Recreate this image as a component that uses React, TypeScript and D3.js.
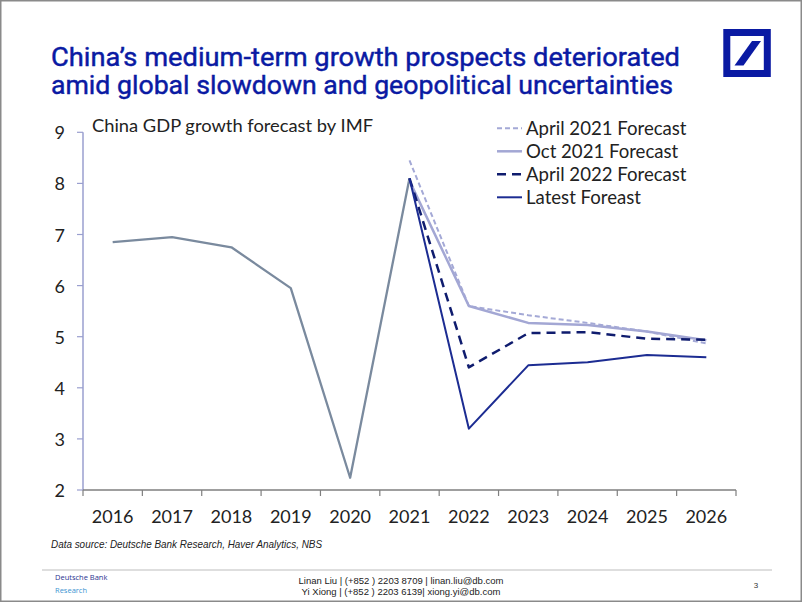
import React from "react";
import * as d3 from "d3";

const years = ["2016", "2017", "2018", "2019", "2020", "2021", "2022", "2023", "2024", "2025", "2026"];
const historyYears = ["2016", "2017", "2018", "2019", "2020", "2021"];
const historyValues = [6.85, 6.95, 6.75, 5.95, 2.24, 8.1];
const forecastYears = ["2021", "2022", "2023", "2024", "2025", "2026"];
const april2021Values = [8.45, 5.6, 5.42, 5.27, 5.1, 4.87];
const oct2021Values = [8.05, 5.6, 5.27, 5.23, 5.1, 4.93];
const april2022Values = [8.1, 4.4, 5.07, 5.09, 4.96, 4.94];
const latestValues = [8.1, 3.2, 4.44, 4.5, 4.64, 4.6];
const yTicks = [2, 3, 4, 5, 6, 7, 8, 9];

const seriesDefs = [
  { name: "April 2021 Forecast", values: april2021Values, color: "#a4a9d6", width: 2, dash: "5,3" },
  { name: "Oct 2021 Forecast", values: oct2021Values, color: "#a3a7d4", width: 2.5, dash: "" },
  { name: "April 2022 Forecast", values: april2022Values, color: "#0f1c6e", width: 2.5, dash: "9,6" },
  { name: "Latest Foreast", values: latestValues, color: "#1c2c92", width: 2, dash: "" },
];

export default function App() {
  const W = 802;
  const H = 602;
  const x0 = 83;
  const x1 = 736;
  const yTop = 132.3;
  const yBot = 490;

  const x = d3.scaleBand<string>().domain(years).range([x0, x1]).padding(0);
  const y = d3.scaleLinear().domain([2, 9]).range([yBot, yTop]);
  const cx = (yr: string) => (x(yr) as number) + x.bandwidth() / 2;

  const line = d3
    .line<[string, number]>()
    .x((d) => cx(d[0]))
    .y((d) => y(d[1]));

  const histPath = line(historyYears.map((yr, i) => [yr, historyValues[i]] as [string, number])) || "";

  const edges = years.map((yr) => x(yr) as number).concat([x1]);

  const font = "Lato, 'Open Sans', sans-serif";

  return (
    <svg
      width={W}
      height={H}
      viewBox={`0 0 ${W} ${H}`}
      style={{ position: "absolute", left: 0, top: 0, background: "#fff" }}
    >
      <rect x={0} y={0} width={W} height={H} fill="#fff" />
      <rect x={0.75} y={0.75} width={W - 1.5} height={H - 1.5} fill="none" stroke="#8a8a8a" strokeWidth={1.5} />

      {/* Title */}
      <g
        fill="#0a1aa3"
        stroke="#0a1aa3"
        strokeWidth={0.45}
        fontFamily="Roboto, sans-serif"
        fontWeight={400}
        fontSize={26}
      >
        <text x={51} y={65.5} textLength={629} lengthAdjust="spacingAndGlyphs">
          China’s medium-term growth prospects deteriorated
        </text>
        <text x={51} y={94} textLength={622} lengthAdjust="spacingAndGlyphs">
          amid global slowdown and geopolitical uncertainties
        </text>
      </g>

      {/* Logo */}
      <rect x={726.8} y={32.5} width={40.5} height={41} fill="none" stroke="#0a1aa3" strokeWidth={7} />
      <polygon points="734.5,65.5 743.5,65.5 761,41 752,41" fill="#0a1aa3" />

      {/* Subtitle */}
      <text x={92} y={132} fontFamily={font} fontSize={17} fill="#222" textLength={281} lengthAdjust="spacingAndGlyphs">
        China GDP growth forecast by IMF
      </text>

      {/* Y axis */}
      <line x1={x0} x2={x0} y1={yTop} y2={yBot} stroke="#9a9fcf" strokeWidth={1.5} />
      {yTicks.map((t) => (
        <g key={t}>
          <line x1={x0 - 6} x2={x0} y1={y(t)} y2={y(t)} stroke="#9a9fcf" strokeWidth={1.2} />
          <text
            x={65}
            y={y(t)}
            textAnchor="end"
            dominantBaseline="central"
            fontFamily={font}
            fontSize={18}
            fill="#222"
          >
            {t}
          </text>
        </g>
      ))}

      {/* X axis */}
      <line x1={x0} x2={x1} y1={yBot} y2={yBot} stroke="#7f7f7f" strokeWidth={1.5} />
      {edges.map((e, i) => (
        <line key={i} x1={e} x2={e} y1={yBot} y2={yBot + 6} stroke="#7f7f7f" strokeWidth={1.2} />
      ))}
      {years.map((yr) => (
        <text key={yr} x={cx(yr)} y={523} textAnchor="middle" fontFamily={font} fontSize={18} fill="#222">
          {yr}
        </text>
      ))}

      {/* History line */}
      <path d={histPath} fill="none" stroke="#7a8a9e" strokeWidth={2.3} strokeLinejoin="round" />

      {/* Forecast lines */}
      {seriesDefs.map((s) => (
        <path
          key={s.name}
          d={line(forecastYears.map((yr, i) => [yr, s.values[i]] as [string, number])) || ""}
          fill="none"
          stroke={s.color}
          strokeWidth={s.width}
          strokeDasharray={s.dash || undefined}
          strokeLinejoin="round"
        />
      ))}

      {/* Legend */}
      {seriesDefs.map((s, i) => {
        const ly = 128.3 + i * 23;
        return (
          <g key={s.name}>
            <line
              x1={497}
              x2={522}
              y1={ly}
              y2={ly}
              stroke={s.color}
              strokeWidth={s.width}
              strokeDasharray={s.dash || undefined}
            />
            <text x={526} y={ly} dominantBaseline="central" fontFamily={font} fontSize={18.6} fill="#222">
              {s.name}
            </text>
          </g>
        );
      })}

      {/* Source */}
      <text
        x={51}
        y={548}
        fontFamily="'Liberation Sans', Arial, sans-serif"
        fontStyle="italic"
        fontSize={10.5}
        fill="#222"
        textLength={271}
        lengthAdjust="spacingAndGlyphs"
      >
        Data source: Deutsche Bank Research, Haver Analytics, NBS
      </text>

      {/* Footer */}
      <line x1={42} x2={772} y1={570} y2={570} stroke="#dedede" strokeWidth={2} />
      <text x={55} y={580} fontFamily="'Open Sans', sans-serif" fontSize={7.5} fill="#2a3590">
        Deutsche Bank
      </text>
      <text x={55} y={592.5} fontFamily="'Open Sans', sans-serif" fontSize={7.5} fill="#3d95d2">
        Research
      </text>
      <g fontFamily="'Liberation Sans', Arial, sans-serif" fontSize={9.5} fill="#222" textAnchor="middle">
        <text x={401} y={584}>
          Linan Liu | (+852 ) 2203 8709 | linan.liu@db.com
        </text>
        <text x={401} y={595}>
          Yi Xiong | (+852 ) 2203 6139| xiong.yi@db.com
        </text>
      </g>
      <text x={756} y={588} fontFamily="'Liberation Sans', Arial, sans-serif" fontSize={8} fill="#333" textAnchor="middle">
        3
      </text>
    </svg>
  );
}
